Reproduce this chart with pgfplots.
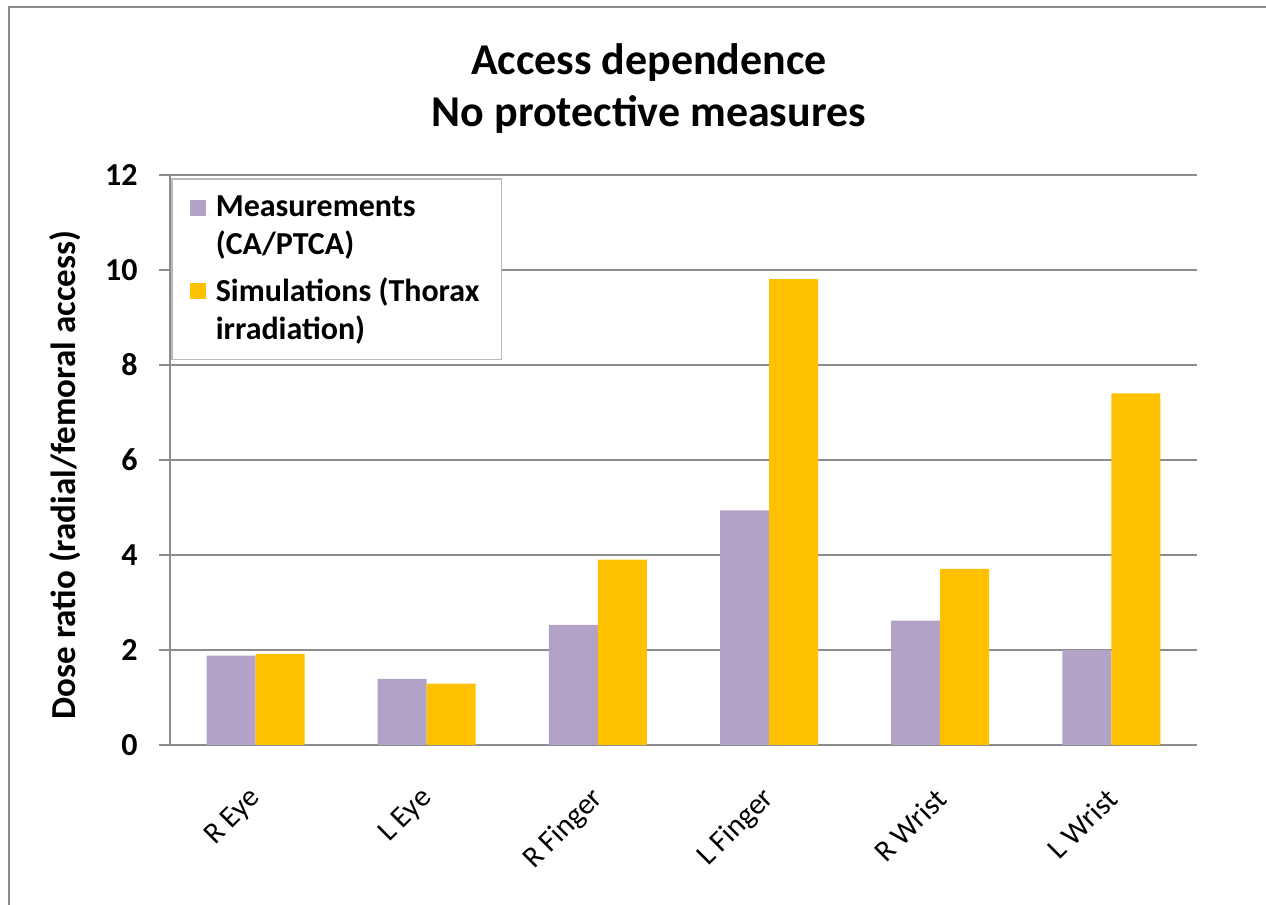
\documentclass[border=0pt]{standalone}
\usepackage{fontspec}
\setmainfont{Carlito}
\usepackage{pgfplots}
\pgfplotsset{compat=1.18}
\definecolor{meas}{HTML}{B3A2C7}
\definecolor{simu}{HTML}{FFC000}
\definecolor{gridc}{HTML}{8C8C8C}
\begin{document}
\begin{tikzpicture}
\useasboundingbox (0,0) rectangle (633pt,452.5pt);
\draw[gridc, line width=1.1pt] (4.5pt,0) -- (4.5pt,449pt) -- (633pt,449pt);
\begin{axis}[
  at={(85pt,80pt)}, anchor=south west,
  scale only axis, width=513.5pt, height=285pt,
  ybar=0pt, bar width=24.5pt,
  xmin=-0.5, xmax=5.5, ymin=0, ymax=12,
  xtick={0,1,2,3,4,5},
  xticklabels={R Eye, L Eye, R Finger, L Finger, R Wrist, L Wrist},
  ytick={0,2,4,6,8,10,12},
  /pgf/number format/assume math mode=true,
  axis lines=left, axis line style={-, gridc, line width=1pt},
  ymajorgrids, grid style={gridc, line width=1pt},
  xtick style={draw=none},
  ytick style={gridc, line width=1pt},
  tick align=outside, major tick length=5.5pt,
  yticklabel style={font=\bfseries\fontsize{16}{19}\selectfont, anchor=east, inner sep=0pt, xshift=-10.5pt},
  xticklabel style={font=\fontsize{15}{18}\selectfont, yshift=-19pt, xshift=0.5pt, rotate=45, anchor=east, inner sep=0pt},
  title={Access dependence\\No protective measures},
  title style={at={(axis description cs:0.4664,1.1314)}, anchor=center, align=center, font=\bfseries\fontsize{22}{26}\selectfont},
  ylabel={Dose ratio (radial/femoral access)},
  ylabel style={at={(axis description cs:-0.1022,0.4737)}, anchor=center, font=\bfseries\fontsize{17.5}{21}\selectfont},
  legend style={at={(axis description cs:0.001,0.9947)}, anchor=north west, draw=gray!55, line width=0.8pt, fill=white,
    font=\bfseries\fontsize{16}{19}\selectfont, row sep=6pt, inner xsep=9pt, inner ysep=6.5pt,
    cells={align=left}},
  legend cell align=left,
  legend image code/.code={\fill[#1] (0pt,5.5pt) rectangle (8pt,13.5pt); \path (0pt,5.5pt) -- (11pt,5.5pt);},
]
\addplot[fill=meas, draw=none] coordinates {(0,1.88) (1,1.39) (2,2.53) (3,4.94) (4,2.62) (5,2.0)};
\addlegendentry{Measurements\\(CA/PTCA)}
\addplot[fill=simu, draw=none] coordinates {(0,1.92) (1,1.29) (2,3.90) (3,9.81) (4,3.71) (5,7.40)};
\addlegendentry{Simulations (Thorax\\irradiation)}
\end{axis}
\end{tikzpicture}
\end{document}
